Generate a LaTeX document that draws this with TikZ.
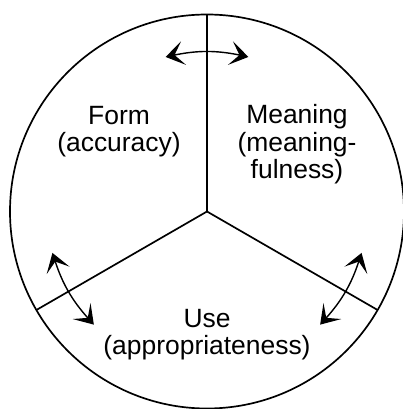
\documentclass[tikz,border=0pt]{standalone}
\usepackage{fontspec}
\setmainfont{Liberation Sans}
\usetikzlibrary{arrows.meta}

\begin{document}
\begin{tikzpicture}[line width=1.2pt,
  every node/.style={font=\fontsize{18.8}{19.4}\selectfont, align=center},
  tradeoff/.style={line width=1pt,
    {Stealth[length=13pt,width=17pt,inset=6.5pt]}-{Stealth[length=13pt,width=17pt,inset=6.5pt]}}]
\useasboundingbox (-5.175,-4.9375) rectangle (4.875,5.2875);
\coordinate (o) at (0,0);
\draw (o) circle (4.925);
% the three spokes
\foreach \a in {90,210,330}{
  \coordinate (rim\a) at (\a:4.925);
  \draw (o) -- (rim\a);
}
\node (form) at (-2.2,2.0) {Form\\(accuracy)};
\node (meaning) at (2.25,1.68) {Meaning\\(meaning-\\fulness)};
\node (use) at (0,-3.07) {Use\\(appropriateness)};
% double arrows across each spoke
\foreach \a in {90,210,330}{
  \coordinate (p\a) at (\a+15:4);
  \coordinate (q\a) at (\a-15:4);
  \draw[tradeoff] (p\a) to[bend left=12] (q\a);
}
\end{tikzpicture}
\end{document}
